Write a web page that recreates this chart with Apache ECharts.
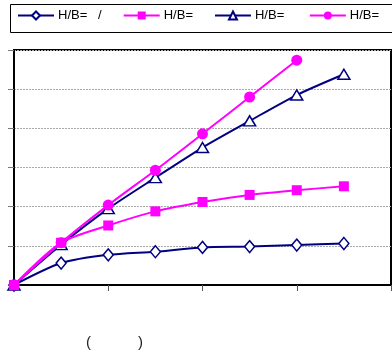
<!DOCTYPE html>
<html><head><meta charset="utf-8">
<script src="https://cdn.jsdelivr.net/npm/echarts@6/dist/echarts.min.js"></script>
<style>html,body{margin:0;padding:0;background:#fff}#c{width:392px;height:360px}</style>
</head><body><div id="c"></div>
<script>
const seriesNames = ['H/B=   /', 'H/B=', 'H/B= ', 'H/B=  '];
const xValues = [0, 1, 2, 3, 4, 5, 6, 7];
const s1 = [0, 0.56, 0.77, 0.85, 0.96, 0.98, 1.02, 1.06];
const s2 = [0, 1.08, 1.52, 1.88, 2.12, 2.30, 2.42, 2.52];
const s3 = [0, 1.03, 1.95, 2.74, 3.51, 4.19, 4.85, 5.38];
const s4 = [0, 1.08, 2.04, 2.93, 3.86, 4.80, 5.74];
const xTicks = [0, 2, 4, 6, 8];
const yTicks = [0, 1, 2, 3, 4, 5, 6];

const pair = arr => arr.map((v, i) => [xValues[i], v]);
const navy = '#000080', mag = '#FF00FF';
const chart = echarts.init(document.getElementById('c'));
chart.setOption({
  animation: false,
  textStyle: {fontFamily: 'Liberation Sans, Arial, sans-serif'},
  grid: {left: 14, top: 50, width: 377, height: 235, show: true, borderColor: '#000', borderWidth: 2, backgroundColor: 'transparent'},
  legend: {
    left: 17, top: 9, width: 600, itemWidth: 36, itemHeight: 10, itemGap: 21, padding: 0,
    textStyle: {fontSize: 13, color: '#000', padding: [0, 0, 0, -1]},
    data: seriesNames
  },
  graphic: [
    {type: 'rect', shape: {x: 10.5, y: 4.5, width: 395, height: 28}, style: {fill: 'none', stroke: '#000', lineWidth: 1}},
    {type: 'text', left: 86, top: 335, style: {text: '(', fontSize: 15, fill: '#222', fontFamily: 'Liberation Sans, Arial'}},
    {type: 'text', left: 138, top: 335, style: {text: ')', fontSize: 15, fill: '#222', fontFamily: 'Liberation Sans, Arial'}}
  ],
  xAxis: {
    type: 'value', min: xTicks[0], max: xTicks[xTicks.length - 1], interval: 2,
    axisLine: {onZero: false, lineStyle: {color: '#000', width: 2}},
    axisTick: {show: true, length: 6, lineStyle: {color: '#555', width: 1}},
    axisLabel: {show: false}, splitLine: {show: false}
  },
  yAxis: {
    type: 'value', min: yTicks[0], max: yTicks[yTicks.length - 1], interval: 1,
    axisLine: {show: true, lineStyle: {color: '#000', width: 2}},
    axisTick: {show: true, length: 6, lineStyle: {color: '#777', width: 1}},
    axisLabel: {show: false},
    splitLine: {show: true, lineStyle: {color: '#aaa', width: 1, type: [2, 1]}}
  },
  series: [
    {name: seriesNames[0], type: 'line', data: pair(s1), smooth: 0.25, symbol: 'diamond', symbolSize: [10, 12],
     lineStyle: {color: navy, width: 2}, itemStyle: {color: '#fff', borderColor: navy, borderWidth: 1.5}, color: navy, z: 2},
    {name: seriesNames[1], type: 'line', data: pair(s2), smooth: 0.25, symbol: 'rect', symbolSize: 10,
     lineStyle: {color: mag, width: 2}, itemStyle: {color: mag}, color: mag, z: 5},
    {name: seriesNames[2], type: 'line', data: pair(s3), smooth: 0.25, symbol: 'triangle', symbolSize: [12, 10],
     lineStyle: {color: navy, width: 2}, itemStyle: {color: '#fff', borderColor: navy, borderWidth: 1.5}, color: navy, z: 3},
    {name: seriesNames[3], type: 'line', data: pair(s4), smooth: 0.25, symbol: 'circle', symbolSize: 11,
     lineStyle: {color: mag, width: 2}, itemStyle: {color: mag}, color: mag, z: 4}
  ]
});
</script></body></html>
